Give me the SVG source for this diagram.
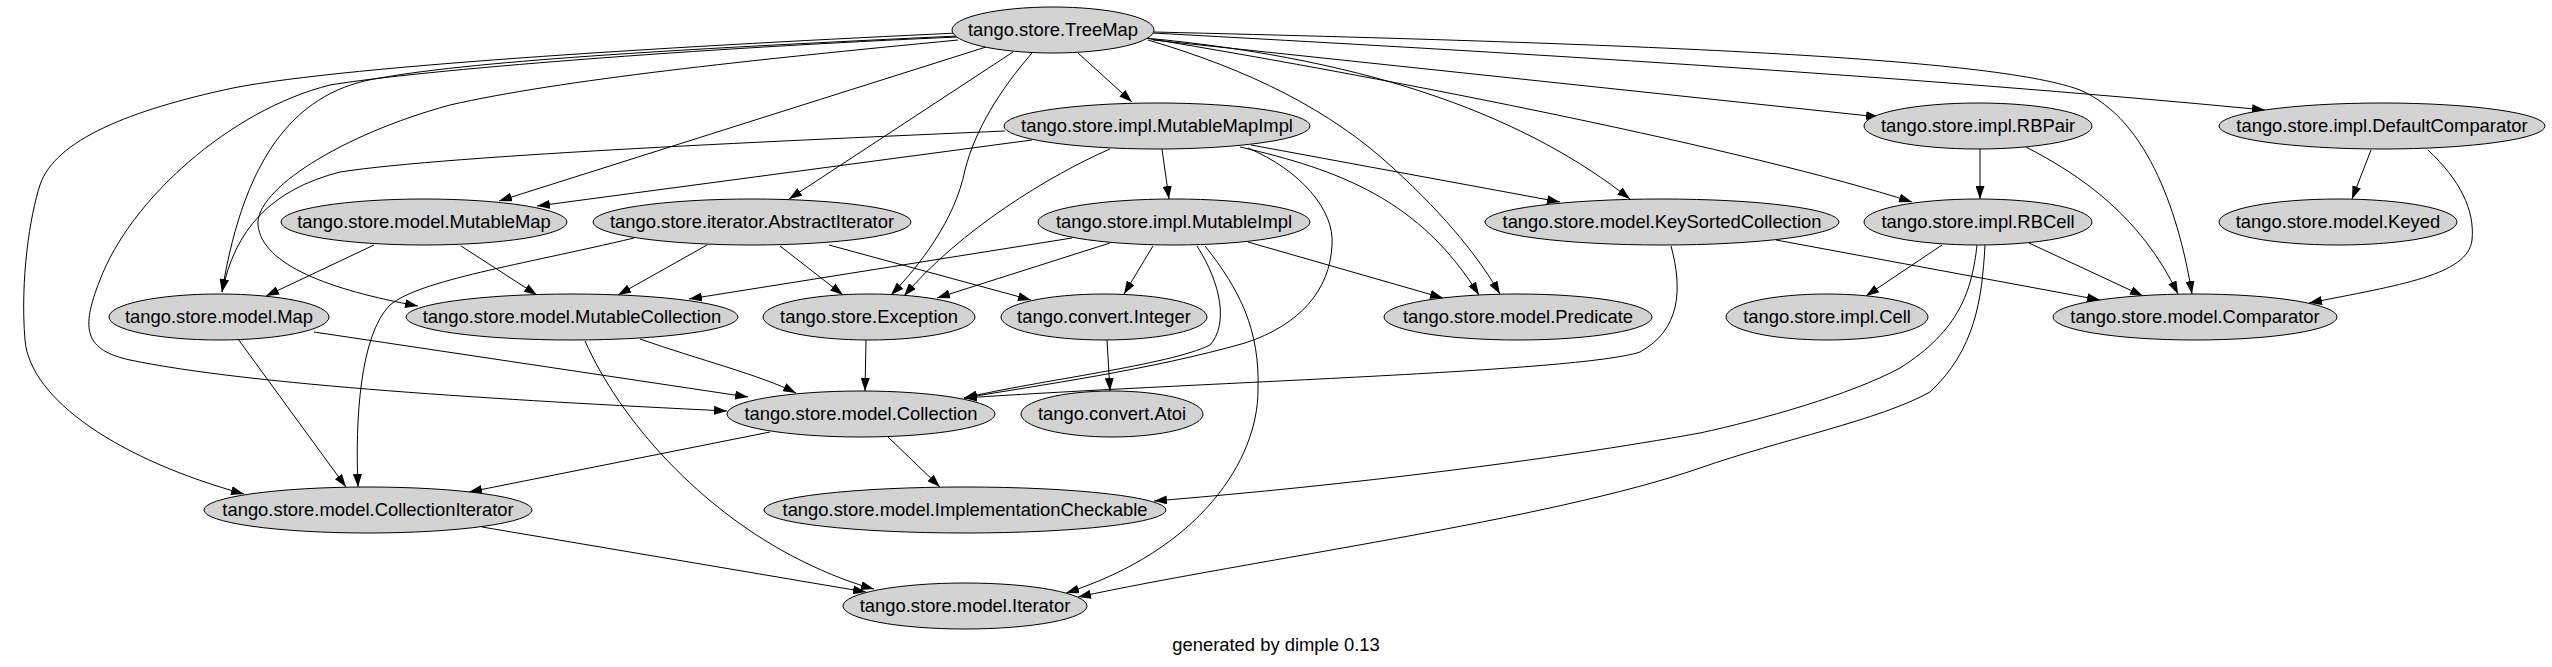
<svg xmlns="http://www.w3.org/2000/svg" width="2552" height="667" viewBox="0 0 2552 667">
<style>
.e{fill:none;stroke:#000;stroke-width:1;marker-end:url(#ah)}
.n ellipse{fill:#d3d3d3;stroke:#000;stroke-width:1}
.n text,.f{font-family:"Liberation Sans",Arial,Helvetica,sans-serif;font-size:18.4px;fill:#000;text-anchor:middle}
</style>
<defs>
<marker id="ah" markerWidth="13" markerHeight="9" refX="13" refY="4.5" orient="auto" markerUnits="userSpaceOnUse"><path d="M0,0 L13,4.5 L0,9 z" fill="#000"/></marker>
</defs>
<rect width="2552" height="667" fill="#fff"/>
<g id="connectors">
<path class="e" d="M1078,53 L1132,102"/>
<path class="e" d="M1153,40 L1879,117"/>
<path class="e" d="M1153,33 C1500,52 1900,75 2265,110"/>
<path class="e" d="M986,47 L499,201"/>
<path class="e" d="M1013,52 L789,199"/>
<path class="e" d="M1145,38 C1380,60 1530,120 1630,199"/>
<path class="e" d="M1145,38 C1400,80 1750,150 1912,202"/>
<path class="e" d="M1154,32 C1700,45 2000,60 2080,90 C2150,120 2180,220 2192,294"/>
<path class="e" d="M1148,40 C1250,70 1330,110 1392,167 C1450,220 1480,260 1500,294"/>
<path class="e" d="M1032,53 C1000,90 975,130 965,170 C955,220 920,265 891,295"/>
<path class="e" d="M958,36 C700,48 480,60 380,78 C300,90 245,150 222,292"/>
<path class="e" d="M958,40 C750,60 560,80 450,105 C340,135 255,190 258,225 C262,265 330,290 418,306"/>
<path class="e" d="M958,37 C700,48 420,70 330,85 C230,110 130,200 100,280 C80,330 85,350 130,360 C250,385 500,400 727,411"/>
<path class="e" d="M958,33 C700,45 350,65 233,88 C130,110 55,140 40,185 C30,215 20,280 25,340 C30,400 120,460 244,494"/>
<path class="e" d="M1162,149 L1169,199"/>
<path class="e" d="M1110,149 C1050,175 960,230 904,296"/>
<path class="e" d="M1251,145 L1560,202"/>
<path class="e" d="M1240,147 C1340,170 1420,200 1479,295"/>
<path class="e" d="M1248,148 C1300,170 1335,210 1332,245 C1330,290 1300,325 1245,343 C1150,370 1040,385 964,398"/>
<path class="e" d="M1005,131 C800,140 450,155 340,172 C270,190 235,230 222,292"/>
<path class="e" d="M1032,140 L537,206"/>
<path class="e" d="M374,245 L266,296"/>
<path class="e" d="M461,246 L537,295"/>
<path class="e" d="M707,245 L618,295"/>
<path class="e" d="M780,246 L843,295"/>
<path class="e" d="M829,245 L1031,300"/>
<path class="e" d="M634,238 C520,265 420,280 390,305 C360,335 355,420 358,487"/>
<path class="e" d="M238,339 L346,487"/>
<path class="e" d="M314,332 L748,397"/>
<path class="e" d="M640,339 C700,360 760,375 796,393"/>
<path class="e" d="M585,341 C620,420 700,510 800,560 C830,575 855,584 874,589"/>
<path class="e" d="M1072,238 L689,299"/>
<path class="e" d="M1110,243 L937,298"/>
<path class="e" d="M1153,246 L1124,294"/>
<path class="e" d="M1248,242 L1443,298"/>
<path class="e" d="M1197,246 C1222,285 1228,325 1210,345 C1170,365 1040,380 964,398"/>
<path class="e" d="M1205,246 C1240,290 1260,330 1258,390 C1258,460 1200,550 1066,593"/>
<path class="e" d="M1980,149 L1980,199"/>
<path class="e" d="M2026,147 C2080,175 2140,215 2178,294"/>
<path class="e" d="M2371,150 L2352,199"/>
<path class="e" d="M2428,150 C2460,180 2475,210 2472,240 C2468,275 2400,285 2309,303"/>
<path class="e" d="M1942,245 L1866,296"/>
<path class="e" d="M2029,243 L2143,296"/>
<path class="e" d="M1977,245 C1972,290 1960,330 1900,368 C1850,395 1760,420 1700,433 C1550,460 1350,485 1154,501"/>
<path class="e" d="M1985,245 C1982,300 1975,350 1930,392 C1880,420 1780,440 1700,468 C1550,520 1250,560 1078,597"/>
<path class="e" d="M1776,240 L2100,300"/>
<path class="e" d="M1671,246 C1683,290 1680,330 1640,352 C1580,372 1200,382 964,398"/>
<path class="e" d="M866,340 L865,391"/>
<path class="e" d="M1107,340 L1110,391"/>
<path class="e" d="M888,437 L940,487"/>
<path class="e" d="M770,432 L469,492"/>
<path class="e" d="M482,527 L866,592"/>
</g>
<g id="n1" class="n"><ellipse cx="1053" cy="30" rx="101" ry="23"/><text x="1053" y="36">tango.store.TreeMap</text></g>
<g id="n2" class="n"><ellipse cx="1157" cy="126" rx="153" ry="23"/><text x="1157" y="132">tango.store.impl.MutableMapImpl</text></g>
<g id="n3" class="n"><ellipse cx="1978" cy="126" rx="114" ry="23"/><text x="1978" y="132">tango.store.impl.RBPair</text></g>
<g id="n4" class="n"><ellipse cx="2382" cy="126" rx="163" ry="23"/><text x="2382" y="132">tango.store.impl.DefaultComparator</text></g>
<g id="n5" class="n"><ellipse cx="424" cy="222" rx="143" ry="23"/><text x="424" y="228">tango.store.model.MutableMap</text></g>
<g id="n6" class="n"><ellipse cx="752" cy="222" rx="159" ry="23"/><text x="752" y="228">tango.store.iterator.AbstractIterator</text></g>
<g id="n7" class="n"><ellipse cx="1174" cy="222" rx="136" ry="23"/><text x="1174" y="228">tango.store.impl.MutableImpl</text></g>
<g id="n8" class="n"><ellipse cx="1662" cy="222" rx="177" ry="23"/><text x="1662" y="228">tango.store.model.KeySortedCollection</text></g>
<g id="n9" class="n"><ellipse cx="1978" cy="222" rx="114" ry="23"/><text x="1978" y="228">tango.store.impl.RBCell</text></g>
<g id="n10" class="n"><ellipse cx="2338" cy="222" rx="119" ry="23"/><text x="2338" y="228">tango.store.model.Keyed</text></g>
<g id="n11" class="n"><ellipse cx="219" cy="317" rx="110" ry="23"/><text x="219" y="323">tango.store.model.Map</text></g>
<g id="n12" class="n"><ellipse cx="572" cy="317" rx="166" ry="23"/><text x="572" y="323">tango.store.model.MutableCollection</text></g>
<g id="n13" class="n"><ellipse cx="869" cy="317" rx="106" ry="23"/><text x="869" y="323">tango.store.Exception</text></g>
<g id="n14" class="n"><ellipse cx="1104" cy="317" rx="103" ry="23"/><text x="1104" y="323">tango.convert.Integer</text></g>
<g id="n15" class="n"><ellipse cx="1518" cy="317" rx="134" ry="23"/><text x="1518" y="323">tango.store.model.Predicate</text></g>
<g id="n16" class="n"><ellipse cx="1827" cy="317" rx="101" ry="23"/><text x="1827" y="323">tango.store.impl.Cell</text></g>
<g id="n17" class="n"><ellipse cx="2195" cy="317" rx="142" ry="23"/><text x="2195" y="323">tango.store.model.Comparator</text></g>
<g id="n18" class="n"><ellipse cx="861" cy="414" rx="134" ry="23"/><text x="861" y="420">tango.store.model.Collection</text></g>
<g id="n19" class="n"><ellipse cx="1112" cy="414" rx="91" ry="23"/><text x="1112" y="420">tango.convert.Atoi</text></g>
<g id="n20" class="n"><ellipse cx="368" cy="510" rx="164" ry="23"/><text x="368" y="516">tango.store.model.CollectionIterator</text></g>
<g id="n21" class="n"><ellipse cx="965" cy="510" rx="201" ry="23"/><text x="965" y="516">tango.store.model.ImplementationCheckable</text></g>
<g id="n22" class="n"><ellipse cx="965" cy="606" rx="122" ry="23"/><text x="965" y="612">tango.store.model.Iterator</text></g>
<text class="f" x="1276" y="651">generated by dimple 0.13</text>
</svg>
